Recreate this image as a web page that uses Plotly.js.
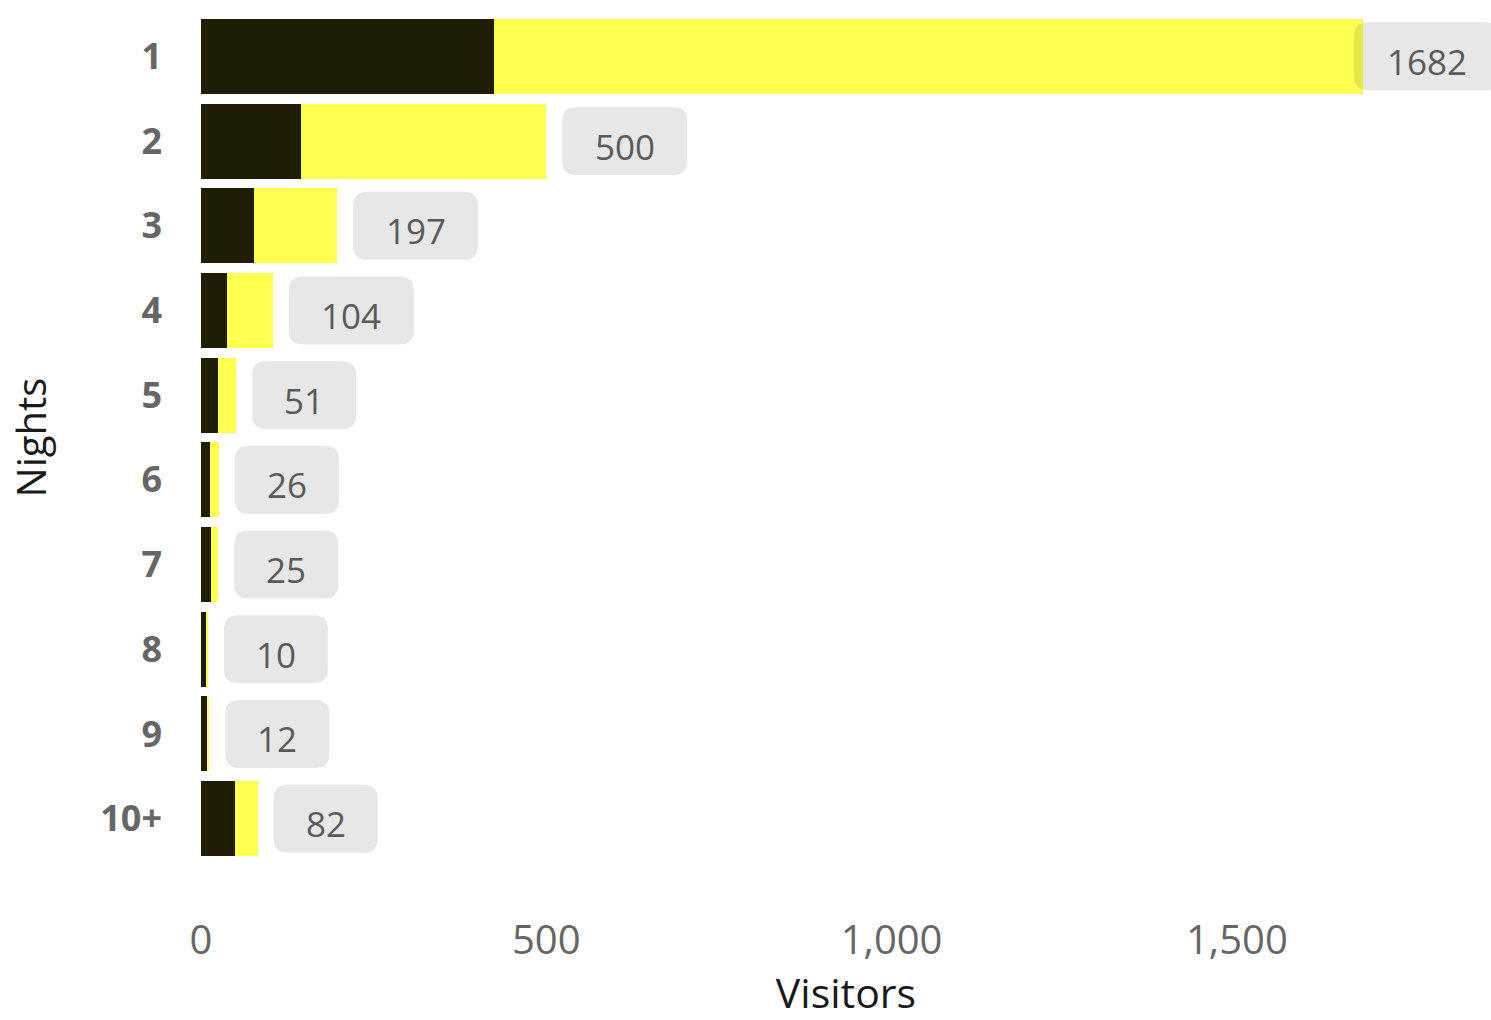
<!DOCTYPE html>
<html>
<head>
<meta charset="utf-8">
<script src="https://cdn.plot.ly/plotly-3.0.1.min.js"></script>
<style>html,body{margin:0;padding:0;background:#fff;}#chart{width:1491px;height:1020px;}</style>
</head>
<body>
<div id="chart"></div>
<script>
// Data
var nights = ['1', '2', '3', '4', '5', '6', '7', '8', '9', '10+'];
var totalVisitors = [1682, 500, 197, 104, 51, 26, 25, 10, 12, 82];
var darkPart = [424, 145, 77, 38, 25, 13, 15, 7, 8, 49];
var xTickVals = [0, 500, 1000, 1500];
var xTickText = ['0', '500', '1,000', '1,500'];

var yellowPart = totalVisitors.map(function (t, i) { return t - darkPart[i]; });
var yIdx = nights.map(function (_, i) { return i; });

var W = 1491, H = 1020;
var margin = {l: 201, r: 0, t: 14, b: 159};
var xMax = 1868;
var plotW = W - margin.l - margin.r;
var pxPerUnit = plotW / xMax;

var traces = [
  {
    type: 'bar', orientation: 'h', y: yIdx, x: darkPart,
    marker: {color: '#1f1d06', line: {width: 0}},
    hoverinfo: 'skip', showlegend: false
  },
  {
    type: 'bar', orientation: 'h', y: yIdx, x: yellowPart,
    marker: {color: '#ffff4f', line: {width: 0}},
    hoverinfo: 'skip', showlegend: false
  }
];

var shapes = [];
var annotations = [];
var boxH = 68, rad = 14, gap = 16, maxRight = 1299;
totalVisitors.forEach(function (t, i) {
  var label = String(t);
  var w = 62 + 21 * label.length;
  var endPx = t * pxPerUnit;
  var off = gap;
  if (endPx + gap + w > maxRight) { off = maxRight - w - endPx; }
  var x0 = off, x1 = off + w, h2 = boxH / 2;
  var p = 'M' + (x0 + rad) + ',' + (-h2) +
    ' L' + (x1 - rad) + ',' + (-h2) +
    ' Q' + x1 + ',' + (-h2) + ' ' + x1 + ',' + (-h2 + rad) +
    ' L' + x1 + ',' + (h2 - rad) +
    ' Q' + x1 + ',' + h2 + ' ' + (x1 - rad) + ',' + h2 +
    ' L' + (x0 + rad) + ',' + h2 +
    ' Q' + x0 + ',' + h2 + ' ' + x0 + ',' + (h2 - rad) +
    ' L' + x0 + ',' + (-h2 + rad) +
    ' Q' + x0 + ',' + (-h2) + ' ' + (x0 + rad) + ',' + (-h2) + ' Z';
  shapes.push({
    type: 'path', xref: 'x', yref: 'y',
    xsizemode: 'pixel', ysizemode: 'pixel',
    xanchor: t, yanchor: i, path: p,
    fillcolor: 'rgba(0,0,0,0.095)', line: {width: 0}, layer: 'above'
  });
  annotations.push({
    x: t, y: i, xref: 'x', yref: 'y', text: label, showarrow: false,
    xanchor: 'center', yanchor: 'middle', xshift: off + w / 2, yshift: -5,
    font: {family: 'Open Sans, sans-serif', size: 35, color: '#5a5a5a'}
  });
});

var layout = {
  width: W, height: H,
  margin: margin,
  paper_bgcolor: '#ffffff', plot_bgcolor: '#ffffff',
  barmode: 'stack', bargap: 0.115,
  xaxis: {
    range: [0, xMax], tickvals: xTickVals, ticktext: xTickText,
    showgrid: false, zeroline: false, showline: false, ticks: '',
    ticklabelstandoff: 52,
    tickfont: {family: 'Open Sans, sans-serif', size: 40, color: '#666666'},
    title: {text: 'Visitors', standoff: 28, font: {family: 'Open Sans, sans-serif', size: 41, color: '#1a1a1a'}}
  },
  yaxis: {
    range: [9.5, -0.5], tickvals: yIdx, ticktext: nights,
    showgrid: false, zeroline: false, showline: false, ticks: '',
    ticklabelstandoff: 38,
    tickfont: {family: 'Open Sans, sans-serif', size: 36, color: '#666666', weight: 'bold'},
    title: {text: 'Nights', standoff: 41, font: {family: 'Open Sans, sans-serif', size: 40, color: '#1a1a1a'}}
  },
  shapes: shapes,
  annotations: annotations,
  showlegend: false
};

Plotly.newPlot('chart', traces, layout, {displayModeBar: false, staticPlot: true});
</script>
</body>
</html>
